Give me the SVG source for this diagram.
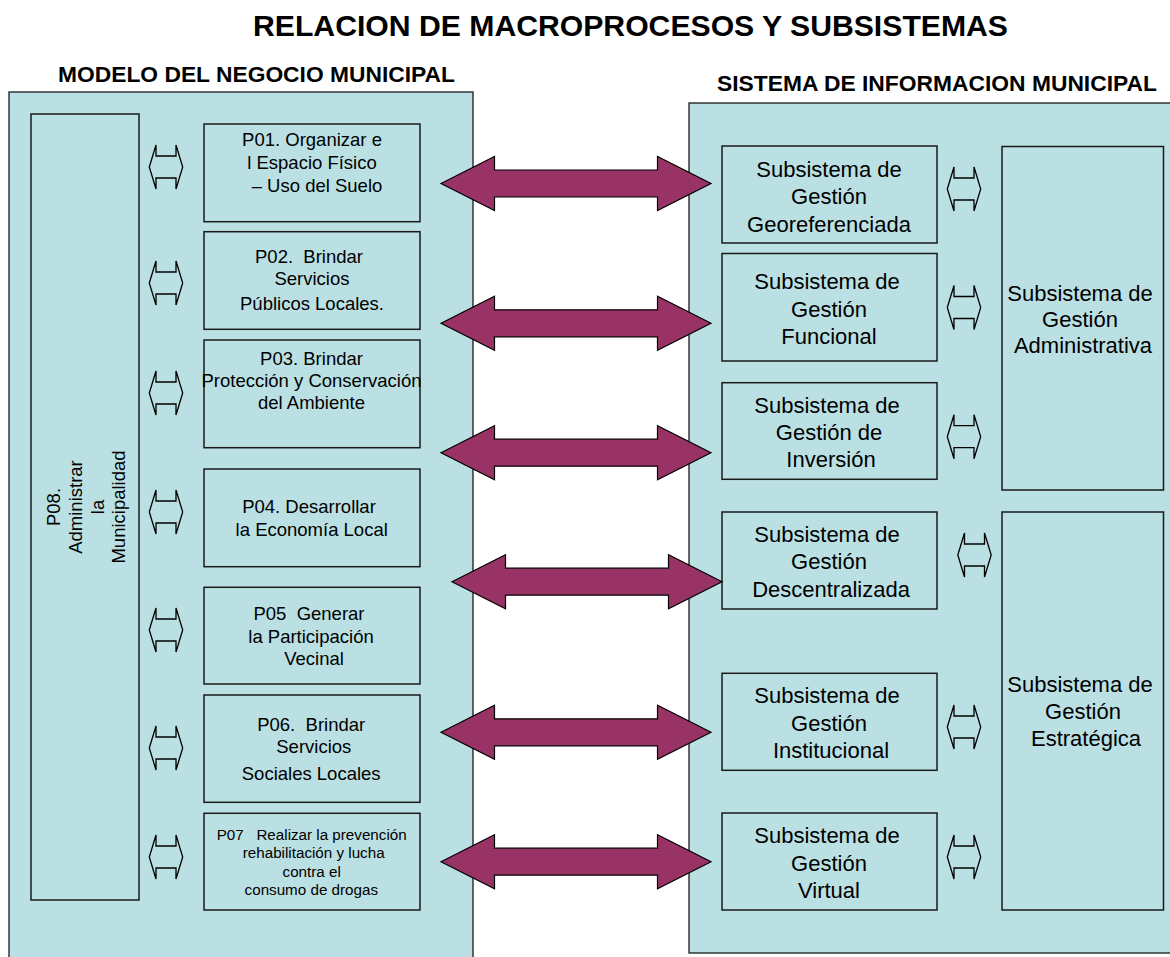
<svg xmlns="http://www.w3.org/2000/svg" xmlns:xlink="http://www.w3.org/1999/xlink" width="1170" height="957" viewBox="0 0 1170 957">
<style>
.cont{fill:#BBE0E3;stroke:#1a1a1a;stroke-width:1.3}
.box{fill:#BBE0E3;stroke:#1a1a1a;stroke-width:1.5}
.t{font-family:"Liberation Sans",Arial,sans-serif;fill:#000;text-anchor:middle}
.hd{font-weight:bold}
.p{font-size:18.5px}
.p7{font-size:15.2px}
.s{font-size:22px}
.big{fill:#993366;stroke:#000;stroke-width:1.2;stroke-linejoin:miter}
.dbl{fill:none;stroke:#000;stroke-width:1.3}
.pre{white-space:pre}
</style>
<defs>
<path id="dbl" d="M-16.7 0 L-10 -22 L-10 -11 L10 -11 L10 -22 L16.7 0 L10 22 L10 11 L-10 11 L-10 22 Z"/>
<path id="big" d="M0 0 L53.5 -27 L53.5 -13.5 L216.5 -13.5 L216.5 -27 L270 0 L216.5 27 L216.5 13.5 L53.5 13.5 L53.5 27 Z"/>
</defs>
<rect width="1170" height="957" fill="#fff"/>

<g id="titles">
<text class="t hd" x="630.5" y="36" font-size="30" textLength="755" lengthAdjust="spacingAndGlyphs">RELACION DE MACROPROCESOS Y SUBSISTEMAS</text>
<text class="t hd" x="256.5" y="82" font-size="22.7" textLength="397" lengthAdjust="spacingAndGlyphs">MODELO DEL NEGOCIO MUNICIPAL</text>
<text class="t hd" x="937" y="91" font-size="22.7" textLength="440" lengthAdjust="spacingAndGlyphs">SISTEMA DE INFORMACION MUNICIPAL</text>
</g>

<g id="modelo-negocio">
<rect class="cont" x="9" y="92" width="464" height="880"/>
</g>
<g id="sistema-informacion">
<rect class="cont" x="689" y="103" width="490" height="850"/>
</g>

<g id="P08">
<rect class="box" x="31" y="114" width="108" height="786"/>
<text class="t p" transform="translate(0,507) rotate(-90)"><tspan x="0" y="59.5">P08.</tspan><tspan x="0" y="81.7">Administrar</tspan><tspan x="0" y="104">la</tspan><tspan x="0" y="124.5">Municipalidad</tspan></text>
</g>

<g id="P01">
<rect class="box" x="204" y="124" width="216" height="97.7"/>
<text class="t p"><tspan x="312" y="146">P01. Organizar e</tspan><tspan x="312" y="169">l Espacio Físico</tspan><tspan x="317" y="191.7">– Uso del Suelo</tspan></text>
</g>
<g id="P02">
<rect class="box" x="204" y="231.7" width="216" height="97.6"/>
<text class="t p pre"><tspan x="309" y="262.7">P02.  Brindar</tspan><tspan x="312" y="285">Servicios</tspan><tspan x="312" y="310">Públicos Locales.</tspan></text>
</g>
<g id="P03">
<rect class="box" x="204" y="340" width="216" height="107.7"/>
<text class="t p"><tspan x="311.5" y="365">P03. Brindar</tspan><tspan x="311.5" y="386.7">Protección y Conservación</tspan><tspan x="311.5" y="409.3">del Ambiente</tspan></text>
</g>
<g id="P04">
<rect class="box" x="204" y="469" width="216" height="97.7"/>
<text class="t p"><tspan x="309" y="512.7">P04. Desarrollar</tspan><tspan x="311.7" y="536">la Economía Local</tspan></text>
</g>
<g id="P05">
<rect class="box" x="204" y="587.3" width="216" height="96.7"/>
<text class="t p pre"><tspan x="309" y="620">P05  Generar</tspan><tspan x="311" y="642.7">la Participación</tspan><tspan x="314" y="665.3">Vecinal</tspan></text>
</g>
<g id="P06">
<rect class="box" x="204" y="695" width="216" height="107.3"/>
<text class="t p pre"><tspan x="311.2" y="730.7">P06.  Brindar</tspan><tspan x="313.8" y="753.3">Servicios</tspan><tspan x="311.2" y="780">Sociales Locales</tspan></text>
</g>
<g id="P07">
<rect class="box" x="204" y="813.3" width="216" height="96.7"/>
<text class="t p7 pre"><tspan x="311.7" y="840">P07   Realizar la prevención</tspan><tspan x="313.7" y="858.3">rehabilitación y lucha</tspan><tspan x="311.7" y="877.3">contra el</tspan><tspan x="311.3" y="895">consumo de drogas</tspan></text>
</g>

<g id="SS-Georeferenciada">
<rect class="box" x="722" y="146" width="215" height="97"/>
<text class="t s"><tspan x="829" y="177">Subsistema de</tspan><tspan x="829" y="204">Gestión</tspan><tspan x="829" y="231.7">Georeferenciada</tspan></text>
</g>
<g id="SS-Funcional">
<rect class="box" x="722" y="253.5" width="215" height="107.5"/>
<text class="t s"><tspan x="827" y="289.3">Subsistema de</tspan><tspan x="829" y="316.7">Gestión</tspan><tspan x="829" y="344">Funcional</tspan></text>
</g>
<g id="SS-Inversion">
<rect class="box" x="722" y="382.7" width="215" height="96.6"/>
<text class="t s"><tspan x="827" y="412.7">Subsistema de</tspan><tspan x="829" y="440">Gestión de</tspan><tspan x="831" y="467.3">Inversión</tspan></text>
</g>
<g id="SS-Descentralizada">
<rect class="box" x="722" y="512" width="215" height="97"/>
<text class="t s"><tspan x="827" y="542.3">Subsistema de</tspan><tspan x="829" y="569.3">Gestión</tspan><tspan x="831" y="596.7">Descentralizada</tspan></text>
</g>
<g id="SS-Institucional">
<rect class="box" x="722" y="673.3" width="215" height="97"/>
<text class="t s"><tspan x="827" y="702.7">Subsistema de</tspan><tspan x="829" y="730.7">Gestión</tspan><tspan x="831" y="757.7">Institucional</tspan></text>
</g>
<g id="SS-Virtual">
<rect class="box" x="722" y="813" width="215" height="97"/>
<text class="t s"><tspan x="827" y="843.3">Subsistema de</tspan><tspan x="829" y="870.7">Gestión</tspan><tspan x="829" y="897.7">Virtual</tspan></text>
</g>
<g id="SS-Administrativa">
<rect class="box" x="1002" y="146.5" width="161.5" height="343.5"/>
<text class="t s"><tspan x="1080" y="300.7">Subsistema de</tspan><tspan x="1080" y="326.7">Gestión</tspan><tspan x="1083" y="352.7">Administrativa</tspan></text>
</g>
<g id="SS-Estrategica">
<rect class="box" x="1002" y="512" width="161.5" height="398"/>
<text class="t s"><tspan x="1080" y="691.7">Subsistema de</tspan><tspan x="1083" y="719">Gestión</tspan><tspan x="1086" y="746">Estratégica</tspan></text>
</g>

<g id="connectors">
<use xlink:href="#big" href="#big" class="big" transform="translate(441,183.5)"/>
<use xlink:href="#big" href="#big" class="big" transform="translate(441,323.3)"/>
<use xlink:href="#big" href="#big" class="big" transform="translate(441,452.7)"/>
<use xlink:href="#big" href="#big" class="big" transform="translate(452,581.7)"/>
<use xlink:href="#big" href="#big" class="big" transform="translate(441,732.3)"/>
<use xlink:href="#big" href="#big" class="big" transform="translate(441,861.7)"/>
<use xlink:href="#dbl" href="#dbl" class="dbl" transform="translate(166,167)"/>
<use xlink:href="#dbl" href="#dbl" class="dbl" transform="translate(166,283)"/>
<use xlink:href="#dbl" href="#dbl" class="dbl" transform="translate(166,393)"/>
<use xlink:href="#dbl" href="#dbl" class="dbl" transform="translate(166,512)"/>
<use xlink:href="#dbl" href="#dbl" class="dbl" transform="translate(166,630)"/>
<use xlink:href="#dbl" href="#dbl" class="dbl" transform="translate(166,748)"/>
<use xlink:href="#dbl" href="#dbl" class="dbl" transform="translate(166,857)"/>
<use xlink:href="#dbl" href="#dbl" class="dbl" transform="translate(964,189)"/>
<use xlink:href="#dbl" href="#dbl" class="dbl" transform="translate(964,307.5)"/>
<use xlink:href="#dbl" href="#dbl" class="dbl" transform="translate(964,436.7)"/>
<use xlink:href="#dbl" href="#dbl" class="dbl" transform="translate(974.5,555)"/>
<use xlink:href="#dbl" href="#dbl" class="dbl" transform="translate(964,727)"/>
<use xlink:href="#dbl" href="#dbl" class="dbl" transform="translate(964,857)"/>
</g>
</svg>
